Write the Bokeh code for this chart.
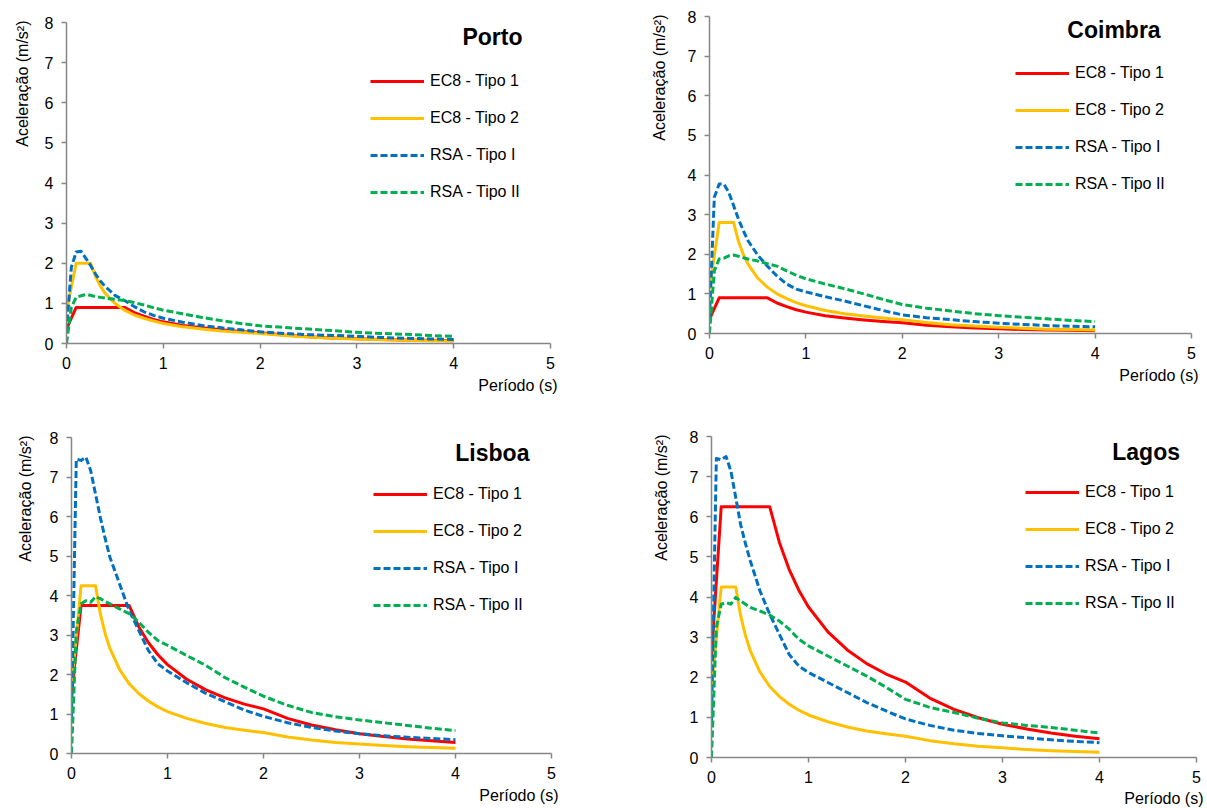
import math
from bokeh.plotting import figure
from bokeh.layouts import column, row
from bokeh.models import Legend, LegendItem, Range1d, FixedTicker, Label, Title
from bokeh.embed import file_html
from bokeh.resources import INLINE

# ---------------- data (periods in s, accelerations in m/s^2) ----------------
periods = [0, 0.05, 0.1, 0.15, 0.2, 0.25, 0.3, 0.35, 0.4, 0.5, 0.6, 0.7, 0.8, 0.9, 1.0,
           1.2, 1.4, 1.6, 1.8, 2.0, 2.25, 2.5, 2.75, 3.0, 3.25, 3.5, 3.75, 4.0]

series_names = ["EC8 - Tipo 1", "EC8 - Tipo 2", "RSA - Tipo I", "RSA - Tipo II"]
cities = ["Porto", "Coimbra", "Lisboa", "Lagos"]
x_ticks = [0, 1, 2, 3, 4, 5]
y_ticks = [0, 1, 2, 3, 4, 5, 6, 7, 8]

porto_ec8_1 = [0.36, 0.63, 0.9, 0.9, 0.9, 0.9, 0.9, 0.9, 0.9, 0.9, 0.9, 0.77, 0.68, 0.6, 0.54,
               0.45, 0.39, 0.34, 0.3, 0.27, 0.21, 0.17, 0.14, 0.12, 0.10, 0.09, 0.08, 0.07]
porto_ec8_2 = [0.8, 1.4, 2.0, 2.0, 2.0, 2.0, 1.67, 1.43, 1.25, 1.0, 0.83, 0.71, 0.63, 0.56, 0.5,
               0.42, 0.36, 0.31, 0.28, 0.25, 0.2, 0.16, 0.13, 0.11, 0.095, 0.08, 0.07, 0.06]
porto_rsa_1 = [0.3, 1.9, 2.28, 2.3, 2.12, 1.94, 1.73, 1.56, 1.42, 1.2, 1.07, 0.92, 0.79, 0.7, 0.63,
               0.53, 0.45, 0.39, 0.34, 0.29, 0.25, 0.22, 0.2, 0.18, 0.15, 0.13, 0.115, 0.1]
porto_rsa_2 = [0.0, 0.9, 1.15, 1.19, 1.22, 1.2, 1.17, 1.15, 1.13, 1.1, 1.07, 1.02, 0.96, 0.89, 0.83,
               0.74, 0.65, 0.57, 0.5, 0.44, 0.4, 0.36, 0.32, 0.28, 0.25, 0.23, 0.2, 0.18]

coimbra_ec8_1 = [0.36, 0.63, 0.9, 0.9, 0.9, 0.9, 0.9, 0.9, 0.9, 0.9, 0.9, 0.77, 0.68, 0.6, 0.54,
                 0.45, 0.39, 0.34, 0.3, 0.27, 0.21, 0.17, 0.14, 0.12, 0.10, 0.09, 0.08, 0.07]
coimbra_ec8_2 = [1.12, 1.96, 2.8, 2.8, 2.8, 2.8, 2.33, 2.0, 1.75, 1.4, 1.17, 1.0, 0.88, 0.78, 0.7,
                 0.58, 0.5, 0.44, 0.39, 0.35, 0.28, 0.22, 0.19, 0.16, 0.13, 0.11, 0.10, 0.09]
coimbra_rsa_1 = [0.4, 3.44, 3.77, 3.77, 3.56, 3.23, 2.89, 2.6, 2.34, 1.98, 1.7, 1.45, 1.25, 1.12, 1.05,
                 0.93, 0.82, 0.7, 0.58, 0.47, 0.4, 0.35, 0.3, 0.26, 0.23, 0.2, 0.185, 0.17]
coimbra_rsa_2 = [0.0, 1.58, 1.88, 1.9, 1.96, 1.98, 1.95, 1.91, 1.88, 1.83, 1.76, 1.7, 1.58, 1.47, 1.38,
                 1.25, 1.13, 1.0, 0.86, 0.73, 0.64, 0.57, 0.5, 0.45, 0.41, 0.37, 0.33, 0.3]

lisboa_ec8_1 = [1.5, 2.63, 3.75, 3.75, 3.75, 3.75, 3.75, 3.75, 3.75, 3.75, 3.75, 3.21, 2.81, 2.5, 2.25,
                1.88, 1.61, 1.41, 1.25, 1.13, 0.89, 0.72, 0.6, 0.5, 0.43, 0.37, 0.32, 0.28]
lisboa_ec8_2 = [1.7, 2.98, 4.25, 4.25, 4.25, 4.25, 3.54, 3.04, 2.66, 2.13, 1.77, 1.52, 1.33, 1.18, 1.06,
                0.89, 0.76, 0.66, 0.59, 0.53, 0.42, 0.34, 0.28, 0.24, 0.2, 0.17, 0.15, 0.13]
lisboa_rsa_1 = [0.9, 7.45, 7.42, 7.5, 7.16, 6.57, 5.98, 5.45, 4.97, 4.3, 3.62, 3.12, 2.61, 2.27, 2.09,
                1.79, 1.52, 1.31, 1.1, 0.94, 0.78, 0.66, 0.57, 0.5, 0.45, 0.41, 0.38, 0.35]
lisboa_rsa_2 = [0.0, 3.1, 3.79, 3.87, 3.83, 3.97, 3.92, 3.85, 3.79, 3.66, 3.54, 3.33, 3.07, 2.86, 2.74,
                2.48, 2.23, 1.92, 1.68, 1.45, 1.22, 1.04, 0.93, 0.85, 0.78, 0.71, 0.64, 0.58]

lagos_ec8_1 = [2.5, 4.38, 6.25, 6.25, 6.25, 6.25, 6.25, 6.25, 6.25, 6.25, 6.25, 5.36, 4.69, 4.17, 3.75,
               3.13, 2.68, 2.34, 2.08, 1.88, 1.48, 1.2, 0.99, 0.83, 0.71, 0.61, 0.53, 0.47]
lagos_ec8_2 = [1.7, 2.98, 4.25, 4.25, 4.25, 4.25, 3.54, 3.04, 2.66, 2.13, 1.77, 1.52, 1.33, 1.18, 1.06,
               0.89, 0.76, 0.66, 0.59, 0.53, 0.42, 0.34, 0.28, 0.24, 0.2, 0.17, 0.15, 0.13]
lagos_rsa_1 = [0.9, 7.45, 7.42, 7.5, 7.14, 6.48, 5.81, 5.33, 4.9, 4.15, 3.57, 3.07, 2.57, 2.28, 2.12,
               1.87, 1.62, 1.37, 1.16, 0.96, 0.8, 0.68, 0.6, 0.54, 0.49, 0.44, 0.4, 0.37]
lagos_rsa_2 = [0.0, 3.24, 3.82, 3.86, 3.82, 3.99, 3.9, 3.82, 3.74, 3.65, 3.55, 3.4, 3.2, 2.95, 2.78,
               2.53, 2.28, 2.03, 1.75, 1.45, 1.25, 1.12, 0.98, 0.86, 0.8, 0.75, 0.68, 0.61]

# ---------------- styling ----------------
FONT = "Liberation Sans"
AXIS_GRAY = "#868686"
colors = ["#FF0000", "#FFC000", "#0070C0", "#00B050"]
dashes = ["solid", "solid", "7 3", "7 3"]
YLABEL = "Aceleração (m/s²)"
XLABEL = "Período (s)"


def make_panel(city, data, width, height, bl, br, bt, bb, leg_xy, title_x, title_dy, xstand, ystand):
    p = figure(width=width, height=height, x_range=Range1d(0, 5), y_range=Range1d(0, 8),
               output_backend="svg", toolbar_location=None,
               min_border_left=bl, min_border_right=br, min_border_top=bt, min_border_bottom=bb)
    p.xgrid.visible = False
    p.ygrid.visible = False
    p.outline_line_color = None
    p.background_fill_color = "white"
    p.border_fill_color = "white"
    p.xaxis.ticker = FixedTicker(ticks=x_ticks)
    p.yaxis.ticker = FixedTicker(ticks=y_ticks)
    for ax in (p.xaxis[0], p.yaxis[0]):
        ax.axis_line_color = AXIS_GRAY
        ax.axis_line_width = 1.5
        ax.major_tick_line_color = AXIS_GRAY
        ax.major_tick_line_width = 1.5
        ax.major_tick_out = 5
        ax.major_tick_in = 0
        ax.minor_tick_line_color = None
        ax.major_label_text_font = FONT
        ax.major_label_text_font_size = "16px"
        ax.major_label_text_color = "#000000"
        ax.major_label_standoff = 8

    # axis titles, right/top aligned like the original
    p.add_layout(Title(text=XLABEL, align="right", offset=-7, standoff=xstand,
                       text_font=FONT, text_font_size="16px", text_font_style="normal",
                       text_color="#000000"), "below")
    p.add_layout(Title(text=YLABEL, align="right", offset=-2, standoff=ystand,
                       text_font=FONT, text_font_size="16px", text_font_style="normal",
                       text_color="#000000"), "left")

    items = []
    for name, ys, c, d in zip(series_names, data, colors, dashes):
        r = p.line(periods, ys, line_color=c, line_width=3, line_dash=d, line_join="round")
        items.append(LegendItem(label=name, renderers=[r]))

    legend = Legend(items=items, location=leg_xy, orientation="vertical",
                    glyph_width=54, glyph_height=20, label_height=20, label_standoff=6,
                    spacing=17, padding=0, margin=0,
                    label_text_font=FONT, label_text_font_size="16px", label_text_color="#000000",
                    border_line_alpha=0, background_fill_alpha=0)
    p.add_layout(legend)

    p.add_layout(Label(x=title_x, y=8, y_offset=-title_dy, text=city, text_align="right",
                       text_baseline="middle", text_font=FONT, text_font_size="23px",
                       text_font_style="bold", text_color="#000000"))
    return p


p1 = make_panel(cities[0], [porto_ec8_1, porto_ec8_2, porto_rsa_1, porto_rsa_2],
                603, 404, 66, 53, 22, 61, (304, 141), 4.71, 14, 6, 21)
p2 = make_panel(cities[1], [coimbra_ec8_1, coimbra_ec8_2, coimbra_rsa_1, coimbra_rsa_2],
                604, 404, 106, 16, 16, 71, (306, 139), 4.68, 13, 6, 34)
p3 = make_panel(cities[2], [lisboa_ec8_1, lisboa_ec8_2, lisboa_rsa_1, lisboa_rsa_2],
                603, 404, 71, 52, 33, 55, (302, 138), 4.77, 15, 6, 26)
p4 = make_panel(cities[3], [lagos_ec8_1, lagos_ec8_2, lagos_rsa_1, lagos_rsa_2],
                604, 404, 108, 11, 32, 51, (314, 144), 4.83, 15, 4, 34)

layout = column(row(column(p1), column(p2)), row(column(p3), column(p4)))

open("out.html", "w").write(file_html(layout, INLINE))
